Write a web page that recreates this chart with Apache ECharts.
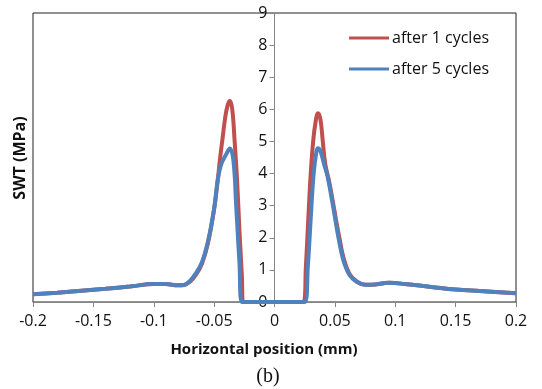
<!DOCTYPE html>
<html><head><meta charset="utf-8">
<script src="https://cdn.jsdelivr.net/npm/echarts@6/dist/echarts.min.js"></script>
<style>html,body{margin:0;padding:0;background:#fff}#c{width:542px;height:389px}</style>
</head><body><div id="c"></div>
<script>
var xTicks = ['-0.2','-0.15','-0.1','-0.05','0','0.05','0.1','0.15','0.2'];
var yTicks = ['0','1','2','3','4','5','6','7','8','9'];
var seriesNames = ['after 1 cycles','after 5 cycles'];

var x1 = [-0.2,-0.18,-0.16,-0.14,-0.12,-0.1,-0.09,-0.08,-0.075,-0.07,-0.065,-0.06,-0.055,-0.05,-0.047,-0.045,-0.043,-0.041,-0.039,-0.037,-0.035,-0.033,-0.031,-0.029,-0.027,-0.026,-0.01,0,0.01,0.024,0.026,0.028,0.030,0.032,0.034,0.036,0.038,0.040,0.042,0.045,0.048,0.051,0.054,0.057,0.062,0.068,0.075,0.08,0.095,0.11,0.13,0.15,0.17,0.2];
var y1 = [0.24,0.29,0.35,0.41,0.48,0.56,0.56,0.52,0.53,0.63,0.85,1.2,1.85,2.9,3.8,4.5,5.1,5.7,6.1,6.27,6.0,5.0,3.8,2.2,0.8,0,0,0,0,0,1.1,2.6,4.0,5.0,5.6,5.88,5.7,5.0,4.3,3.8,3.2,2.55,1.95,1.4,0.88,0.64,0.54,0.54,0.6,0.55,0.47,0.39,0.34,0.27];

var x5 = [-0.2,-0.18,-0.16,-0.14,-0.12,-0.1,-0.09,-0.08,-0.075,-0.07,-0.065,-0.06,-0.055,-0.05,-0.047,-0.044,-0.04,-0.037,-0.034,-0.0317,-0.029,-0.027,-0.01,0,0.01,0.025,0.0276,0.030,0.032,0.034,0.036,0.038,0.041,0.044,0.047,0.05,0.053,0.057,0.062,0.068,0.075,0.08,0.095,0.11,0.13,0.15,0.17,0.2];
var y5 = [0.24,0.29,0.35,0.41,0.48,0.56,0.56,0.52,0.53,0.66,0.9,1.25,1.9,2.9,3.8,4.3,4.6,4.78,4.4,2.97,1.2,0,0,0,0,0,1.1,2.6,3.8,4.5,4.79,4.7,4.3,3.9,3.3,2.65,2.0,1.3,0.85,0.63,0.54,0.54,0.6,0.55,0.47,0.39,0.34,0.27];

function pairs(xs, ys){ return xs.map(function(v,i){ return [v, ys[i]]; }); }
var FONT = 'Open Sans';
var chart = echarts.init(document.getElementById('c'), null, {renderer:'canvas'});
chart.setOption({
  animation:false,
  backgroundColor:'#fff',
  grid:{left:33, right:26, top:13, bottom:87, show:true, borderColor:'#222', borderWidth:1, backgroundColor:'transparent'},
  legend:{
    data:seriesNames, orient:'vertical', right:48, top:25, itemGap:15, itemWidth:40, itemHeight:14,
    textStyle:{fontFamily:FONT, fontSize:16, color:'#111', padding:[0,0,0,-2]},
    icon:'path://M0,6 L40,6 L40,9 L0,9 Z'
  },
  xAxis:{
    type:'value', min:-0.2, max:0.2, interval:0.05,
    axisLine:{show:true, lineStyle:{color:'#868686', width:1}},
    axisTick:{show:true, length:5, lineStyle:{color:'#868686'}},
    splitLine:{show:false},
    axisLabel:{margin:11, fontFamily:FONT, fontSize:16, color:'#111',
      formatter:function(v){ return Number(v.toFixed(2)).toString(); }}
  },
  yAxis:{
    type:'value', min:0, max:9, interval:1, position:'left', offset:-241.5,
    axisLine:{show:true, onZero:false, lineStyle:{color:'#868686', width:1}},
    axisTick:{show:true, length:5, lineStyle:{color:'#868686'}},
    splitLine:{show:false},
    axisLabel:{margin:7, fontFamily:FONT, fontSize:16, color:'#111',
      formatter:function(v){ return yTicks[Math.round(v)]; }}
  },
  graphic:[
    {type:'text', x:20, y:158, rotation:Math.PI/2, style:{text:'SWT (MPa)', font:'bold 16px "Open Sans"', fill:'#111', align:'center', verticalAlign:'middle'}},
    {type:'text', x:264, y:350, style:{text:'Horizontal position (mm)', font:'bold 15px "Open Sans"', fill:'#111', align:'center', verticalAlign:'middle'}},
    {type:'text', x:268, y:377, style:{text:'(b)', font:'20px "Liberation Serif"', fill:'#111', align:'center', verticalAlign:'middle'}}
  ],
  series:[
    {name:seriesNames[0], type:'line', data:pairs(x1,y1), showSymbol:false, smooth:0.4,
     lineStyle:{color:'#C0504D', width:4}, itemStyle:{color:'#C0504D'}, z:2},
    {name:seriesNames[1], type:'line', data:pairs(x5,y5), showSymbol:false, smooth:0.4,
     lineStyle:{color:'#4F81BD', width:4}, itemStyle:{color:'#4F81BD'}, z:3}
  ]
});
</script></body></html>
